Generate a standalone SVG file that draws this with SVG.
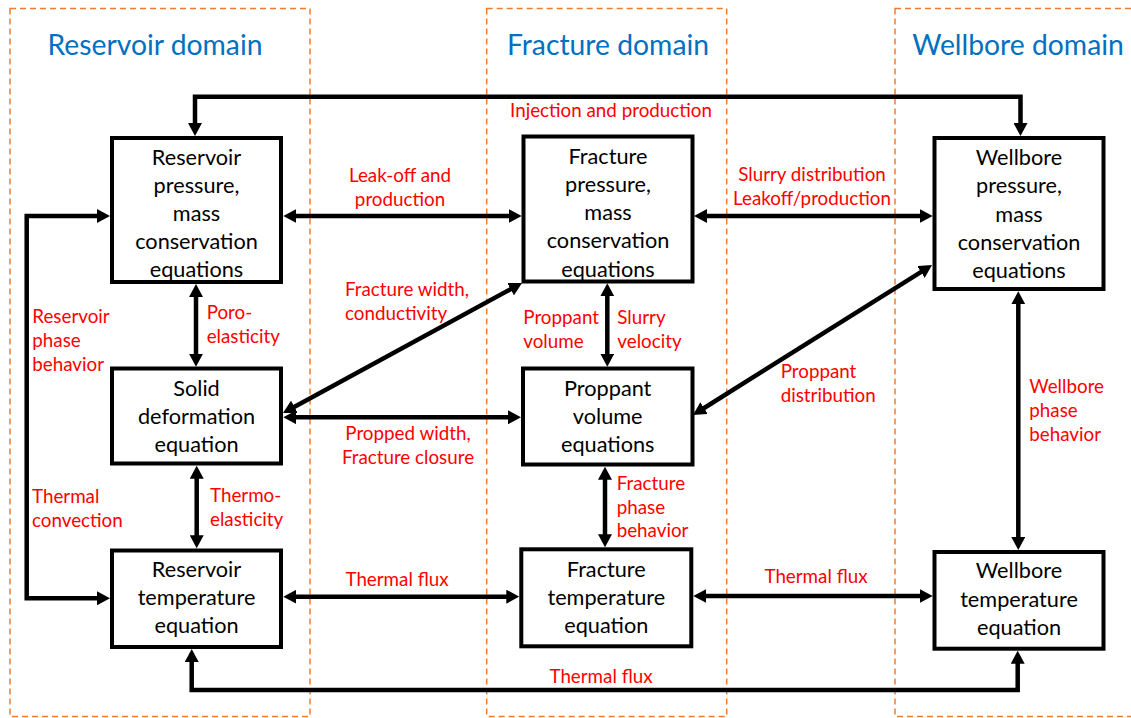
<svg xmlns="http://www.w3.org/2000/svg" width="1131" height="718" viewBox="0 0 1131 718">
<style>
.dom{fill:none;stroke:#ED7D31;stroke-width:1.5;stroke-dasharray:6 4}
.title{font-family:Lato,"Liberation Sans",sans-serif;font-size:28.3px;fill:#0070C0;text-anchor:middle}
.box{fill:#fff;stroke:#000;stroke-width:4}
.bt{font-family:Lato,"Liberation Sans",sans-serif;font-size:21.7px;fill:#000;text-anchor:middle}
.lbl{font-family:Lato,"Liberation Sans",sans-serif;font-size:18.8px;fill:#FF0000}
.mid{text-anchor:middle}
.con{fill:none;stroke:#000;stroke-width:4.5;marker-start:url(#ah);marker-end:url(#ah)}
</style>
<defs>
<marker id="ah" viewBox="0 0 13 14" refX="5" refY="7" markerWidth="13" markerHeight="14" markerUnits="userSpaceOnUse" orient="auto-start-reverse">
<path d="M0,0 L13,7 L0,14 z" fill="#000"/>
</marker>
</defs>
<rect width="1131" height="718" fill="#fff"/>
<g id="domains">
<rect class="dom" x="10" y="8.5" width="300" height="708"/>
<rect class="dom" x="486.7" y="8.5" width="240" height="708"/>
<rect class="dom" x="895" y="8.5" width="250" height="708"/>
<text class="title" x="155" y="55">Reservoir domain</text>
<text class="title" x="608" y="55">Fracture domain</text>
<text class="title" x="1018" y="55">Wellbore domain</text>
</g>
<g id="connectors">
<path class="con" d="M195,128 V96.7 H1020.5 V128"/>
<path class="con" d="M102,216 H26.7 V598.3 H102"/>
<path class="con" d="M291.3,216 H513.7"/>
<path class="con" d="M702,216 H924.7"/>
<path class="con" d="M196,292 V358.7"/>
<path class="con" d="M196.7,473.7 V540.3"/>
<path class="con" d="M607.3,291.3 V358.7"/>
<path class="con" d="M605,474.7 V539.3"/>
<path class="con" d="M1018.3,299.3 V542"/>
<path class="con" d="M291.3,417.3 H513"/>
<path class="con" d="M291.3,596.7 H511.3"/>
<path class="con" d="M701.3,596 H924.7"/>
<path class="con" d="M191.7,657 V690 H1017.7 V658.7"/>
<path class="con" d="M290,409.2 L515,286.8"/>
<path class="con" d="M925.2,269.3 L699.8,410.75"/>
</g>
<g id="labels">
<text class="lbl mid" x="611" y="117">Injection and production</text>
<text class="lbl mid" x="400" y="182">Leak-off and</text>
<text class="lbl mid" x="400" y="206">production</text>
<text class="lbl mid" x="812" y="181">Slurry distribution</text>
<text class="lbl mid" x="812" y="204.5">Leakoff/production</text>
<text class="lbl" x="345" y="296">Fracture width,</text>
<text class="lbl" x="345" y="320">conductivity</text>
<text class="lbl" x="206.7" y="319">Poro-</text>
<text class="lbl" x="206.7" y="343">elasticity</text>
<text class="lbl" x="32.3" y="322.7">Reservoir</text>
<text class="lbl" x="32.3" y="346.7">phase</text>
<text class="lbl" x="32.3" y="371">behavior</text>
<text class="lbl" x="523.3" y="324">Proppant</text>
<text class="lbl" x="523.3" y="348">volume</text>
<text class="lbl" x="617.3" y="324">Slurry</text>
<text class="lbl" x="617.3" y="348">velocity</text>
<text class="lbl" x="780.7" y="378.3">Proppant</text>
<text class="lbl" x="780.7" y="402.3">distribution</text>
<text class="lbl" x="1029.3" y="392.7">Wellbore</text>
<text class="lbl" x="1029.3" y="416.7">phase</text>
<text class="lbl" x="1029.3" y="441">behavior</text>
<text class="lbl mid" x="408" y="440">Propped width,</text>
<text class="lbl mid" x="408" y="464">Fracture closure</text>
<text class="lbl" x="616.7" y="489.5">Fracture</text>
<text class="lbl" x="616.7" y="513.5">phase</text>
<text class="lbl" x="616.7" y="537">behavior</text>
<text class="lbl" x="32" y="503">Thermal</text>
<text class="lbl" x="32" y="527">convection</text>
<text class="lbl" x="210" y="501.5">Thermo-</text>
<text class="lbl" x="210" y="525.5">elasticity</text>
<text class="lbl mid" x="397" y="586">Thermal flux</text>
<text class="lbl mid" x="816" y="583.3">Thermal flux</text>
<text class="lbl mid" x="601" y="683.3">Thermal flux</text>
</g>
<g id="res-pressure">
<rect class="box" x="112" y="138" width="169" height="144"/>
<text class="bt" x="196.5" y="165">Reservoir</text>
<text class="bt" x="196.5" y="193">pressure,</text>
<text class="bt" x="196.5" y="221">mass</text>
<text class="bt" x="196.5" y="249">conservation</text>
<text class="bt" x="196.5" y="277">equations</text>
</g>
<g id="frac-pressure">
<rect class="box" x="523.5" y="136.5" width="169" height="145"/>
<text class="bt" x="608" y="163.5">Fracture</text>
<text class="bt" x="608" y="191.5">pressure,</text>
<text class="bt" x="608" y="220">mass</text>
<text class="bt" x="608" y="248">conservation</text>
<text class="bt" x="608" y="276.5">equations</text>
</g>
<g id="well-pressure">
<rect class="box" x="934.5" y="138" width="169" height="151"/>
<text class="bt" x="1019" y="165">Wellbore</text>
<text class="bt" x="1019" y="193.3">pressure,</text>
<text class="bt" x="1019" y="221.7">mass</text>
<text class="bt" x="1019" y="250">conservation</text>
<text class="bt" x="1019" y="278.3">equations</text>
</g>
<g id="solid-deformation">
<rect class="box" x="112" y="368.5" width="169" height="95"/>
<text class="bt" x="196.5" y="396">Solid</text>
<text class="bt" x="196.5" y="424">deformation</text>
<text class="bt" x="196.5" y="452.3">equation</text>
</g>
<g id="proppant-volume">
<rect class="box" x="523" y="368.5" width="169.5" height="96"/>
<text class="bt" x="607.7" y="396">Proppant</text>
<text class="bt" x="607.7" y="424">volume</text>
<text class="bt" x="607.7" y="452.3">equations</text>
</g>
<g id="res-temperature">
<rect class="box" x="112" y="550.5" width="169" height="96.5"/>
<text class="bt" x="196.5" y="577.3">Reservoir</text>
<text class="bt" x="196.5" y="605">temperature</text>
<text class="bt" x="196.5" y="633.3">equation</text>
</g>
<g id="frac-temperature">
<rect class="box" x="521.3" y="549.3" width="170" height="97"/>
<text class="bt" x="606.3" y="577.3">Fracture</text>
<text class="bt" x="606.3" y="605">temperature</text>
<text class="bt" x="606.3" y="633.3">equation</text>
</g>
<g id="well-temperature">
<rect class="box" x="934.5" y="552" width="169" height="96.7"/>
<text class="bt" x="1019" y="578.3">Wellbore</text>
<text class="bt" x="1019" y="606.7">temperature</text>
<text class="bt" x="1019" y="635">equation</text>
</g>
</svg>
